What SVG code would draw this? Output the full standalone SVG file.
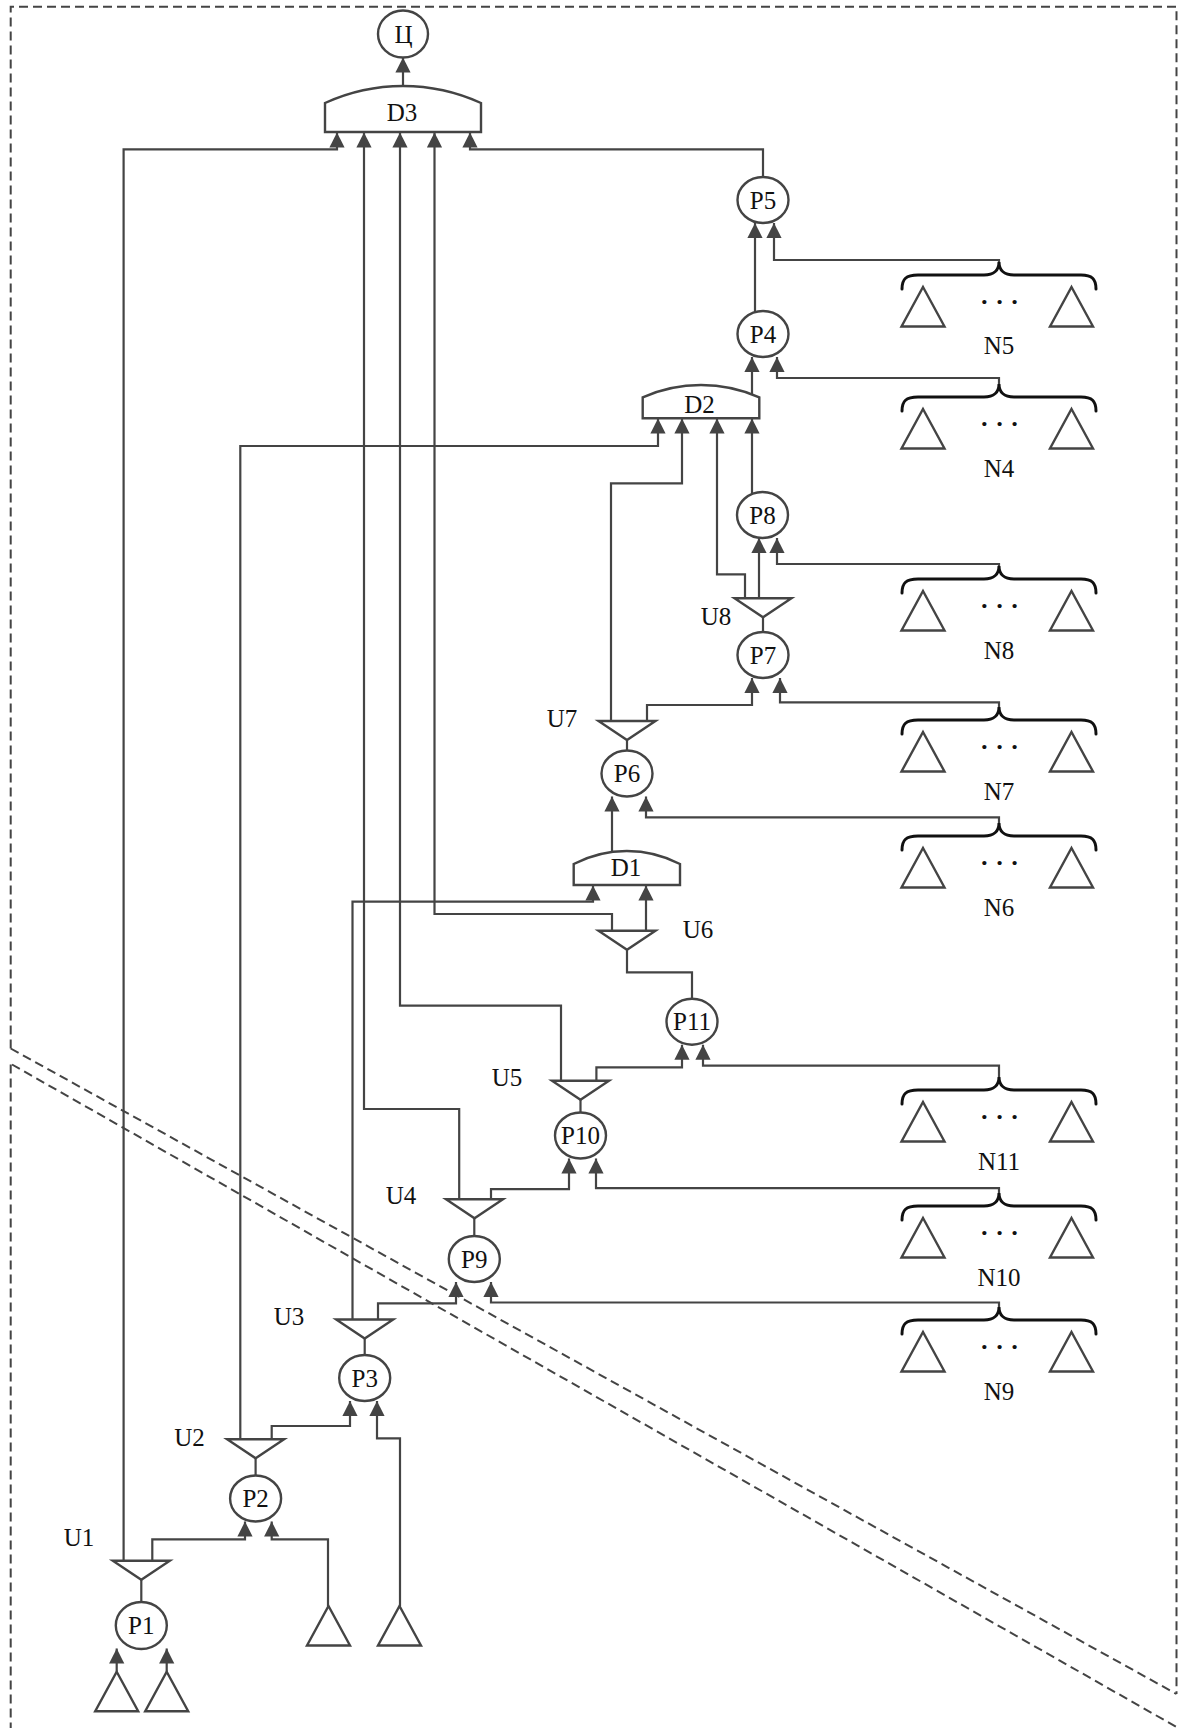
<svg xmlns="http://www.w3.org/2000/svg" width="1178" height="1728" viewBox="0 0 1178 1728">
  <style>
    .frame { fill: none; stroke: #444; stroke-width: 2; stroke-dasharray: 9 5; }
    .wire { fill: none; stroke: #444; stroke-width: 2.2; }
    .arr { marker-end: url(#head); }
    .node { fill: #fff; stroke: #444; stroke-width: 2.4; }
    .tri { fill: #fff; stroke: #444; stroke-width: 2.4; stroke-linejoin: miter; }
    .brace { fill: none; stroke: #111; stroke-width: 3; stroke-linecap: round; }
    .lbl { font-family: "Liberation Serif", "Times New Roman", serif; font-size: 25px; fill: #111; text-anchor: middle; }
    .dots { font-family: "Liberation Serif", "Times New Roman", serif; font-size: 26px; font-weight: bold; fill: #111; text-anchor: middle; }
  </style>
  <defs>
    <marker id="head" markerUnits="userSpaceOnUse" markerWidth="16" markerHeight="16" viewBox="0 0 16 16" refX="15" refY="7.6" orient="auto">
      <path d="M0,0 L15,7.6 L0,15.2 Z" fill="#444"/>
    </marker>
    <!-- splitter: inverted triangle, 57 wide, 19 high, origin at top centre -->
    <path id="splitter" d="M-28.5,0 H28.5 L0,19 Z"/>
    <!-- source: upright triangle, origin at apex -->
    <path id="source" d="M0,0 L21.5,39.5 H-21.5 Z"/>
    <!-- group bracket over a row of sources, origin at bracket line centre -->
    <path id="bracket" d="M-97,14 C-97,4 -93,0 -81,0 H-15 C-5,0 0,-5 0,-13 C0,-5 5,0 15,0 H82 C93,0 97,4 97,14"/>
  </defs>

  <!-- dashed boundaries -->
  <g id="boundary">
    <path class="frame" d="M10.7,1048.5 V6.8 H1176.5 V1694"/>
    <path class="frame" d="M10.7,1048.5 L1176.5,1694"/>
    <path class="frame" d="M12,1064.5 L1180,1729"/>
    <path class="frame" d="M10.7,1064.5 V1728"/>
  </g>

  <g id="connectors">
    <path class="wire arr" d="M403,86 V57.5"/>
    <path class="wire arr" d="M123.6,1560.8 V149.3 H337 V132.5"/>
    <path class="wire arr" d="M459.2,1199.3 V1109 H364 V132.5"/>
    <path class="wire arr" d="M561,1080.7 V1005.7 H400 V132.5"/>
    <path class="wire arr" d="M612,930.7 V914 H434.5 V132.5"/>
    <path class="wire arr" d="M763,177 V149.3 H470 V132.5"/>
    <path class="wire arr" d="M755,312 V223"/>
    <path class="wire arr" d="M999,262 V260 H774 V223"/>
    <path class="wire arr" d="M752,396 V357"/>
    <path class="wire arr" d="M999,384 V378 H777 V357"/>
    <path class="wire arr" d="M240.3,1439.3 V446 H658 V418.5"/>
    <path class="wire arr" d="M611,721 V483.3 H682 V418.5"/>
    <path class="wire arr" d="M745,598.3 V574.3 H717 V418.5"/>
    <path class="wire arr" d="M752,493 V418.5"/>
    <path class="wire arr" d="M759,598.3 V538"/>
    <path class="wire arr" d="M999,566 V564 H777 V538"/>
    <path class="wire" d="M763,632 V616.7"/>
    <path class="wire arr" d="M647,721 V705 H752 V678"/>
    <path class="wire arr" d="M999,707 V702.3 H780 V678"/>
    <path class="wire" d="M627,750.5 V740"/>
    <path class="wire arr" d="M612,852.5 V796.5"/>
    <path class="wire arr" d="M999,823 V817.3 H646 V796.5"/>
    <path class="wire arr" d="M352.5,1319.5 V901.7 H593 V885.5"/>
    <path class="wire arr" d="M646,930.7 V885.5"/>
    <path class="wire" d="M692,998.7 V972.3 H627 V950"/>
    <path class="wire arr" d="M596.4,1080.7 V1067.3 H682 V1044.7"/>
    <path class="wire arr" d="M999,1077 V1065.7 H703 V1044.7"/>
    <path class="wire" d="M580.5,1112.5 V1100"/>
    <path class="wire arr" d="M491,1199.3 V1189.2 H569 V1158.5"/>
    <path class="wire arr" d="M999,1193 V1188.1 H596 V1158.5"/>
    <path class="wire" d="M474.3,1236 V1218"/>
    <path class="wire arr" d="M378,1319.5 V1303.3 H456 V1282"/>
    <path class="wire arr" d="M999,1307 V1302.5 H491 V1282"/>
    <path class="wire" d="M364.7,1355 V1339"/>
    <path class="wire arr" d="M271.7,1439.3 V1426 H350 V1401"/>
    <path class="wire arr" d="M400,1606 V1438.4 H377 V1401"/>
    <path class="wire" d="M255.6,1475.5 V1458"/>
    <path class="wire arr" d="M152.3,1560.8 V1539.3 H245 V1521.5"/>
    <path class="wire arr" d="M328,1606 V1539.3 H271.7 V1521.5"/>
    <path class="wire" d="M141.3,1602.5 V1579"/>
    <path class="wire arr" d="M116.7,1671.7 V1648.5"/>
    <path class="wire arr" d="M166.7,1671.7 V1648.5"/>
  </g>

  <!-- goal -->
  <g id="C">
    <ellipse class="node" cx="403" cy="34" rx="25" ry="23.5"/>
    <text class="lbl" x="403.5" y="42.5">Ц</text>
  </g>

  <!-- aggregators -->
  <g id="D3">
    <path class="node" d="M325,132 V103 A187 187 0 0 1 481,103 V132 Z"/>
    <text class="lbl" x="402" y="120.5">D3</text>
  </g>
  <g id="D2">
    <path class="node" d="M642.7,418.3 V397.3 A144 144 0 0 1 759.3,397.3 V418.3 Z"/>
    <text class="lbl" x="699.5" y="412.5">D2</text>
  </g>
  <g id="D1">
    <path class="node" d="M573.7,885 V864 A115 115 0 0 1 680,864 V885 Z"/>
    <text class="lbl" x="626" y="876">D1</text>
  </g>

  <!-- processes -->
  <g id="P5"><ellipse class="node" cx="763" cy="200" rx="25.5" ry="23"/><text class="lbl" x="763" y="208.5">P5</text></g>
  <g id="P4"><ellipse class="node" cx="763" cy="334" rx="25.5" ry="23"/><text class="lbl" x="763" y="342.5">P4</text></g>
  <g id="P8"><ellipse class="node" cx="762.5" cy="515" rx="25.5" ry="23"/><text class="lbl" x="762.5" y="523.5">P8</text></g>
  <g id="P7"><ellipse class="node" cx="763" cy="655" rx="25.5" ry="23"/><text class="lbl" x="763" y="663.5">P7</text></g>
  <g id="P6"><ellipse class="node" cx="627" cy="773.5" rx="25.5" ry="23"/><text class="lbl" x="627" y="782">P6</text></g>
  <g id="P11"><ellipse class="node" cx="692" cy="1021.7" rx="25.5" ry="23"/><text class="lbl" x="692" y="1030.2">P11</text></g>
  <g id="P10"><ellipse class="node" cx="580.5" cy="1135.5" rx="25.5" ry="23"/><text class="lbl" x="580.5" y="1144">P10</text></g>
  <g id="P9"><ellipse class="node" cx="474.3" cy="1259" rx="25.5" ry="23"/><text class="lbl" x="474.3" y="1267.5">P9</text></g>
  <g id="P3"><ellipse class="node" cx="364.7" cy="1378" rx="25.5" ry="23"/><text class="lbl" x="364.7" y="1386.5">P3</text></g>
  <g id="P2"><ellipse class="node" cx="255.6" cy="1498.5" rx="25.5" ry="23"/><text class="lbl" x="255.6" y="1507">P2</text></g>
  <g id="P1"><ellipse class="node" cx="141.3" cy="1625.5" rx="25.5" ry="23.5"/><text class="lbl" x="141.3" y="1634">P1</text></g>

  <!-- splitters -->
  <g id="U8"><use href="#splitter" class="tri" x="763" y="598.3"/><text class="lbl" x="716" y="624.5">U8</text></g>
  <g id="U7"><use href="#splitter" class="tri" x="627" y="721"/><text class="lbl" x="562" y="727">U7</text></g>
  <g id="U6"><use href="#splitter" class="tri" x="627" y="930.7"/><text class="lbl" x="698" y="937.5">U6</text></g>
  <g id="U5"><use href="#splitter" class="tri" x="580.5" y="1080.7"/><text class="lbl" x="507" y="1086">U5</text></g>
  <g id="U4"><use href="#splitter" class="tri" x="474.5" y="1199.3"/><text class="lbl" x="401" y="1204">U4</text></g>
  <g id="U3"><use href="#splitter" class="tri" x="364.7" y="1319.5"/><text class="lbl" x="289" y="1325">U3</text></g>
  <g id="U2"><use href="#splitter" class="tri" x="255.6" y="1439.3"/><text class="lbl" x="189.5" y="1445.5">U2</text></g>
  <g id="U1"><use href="#splitter" class="tri" x="141.3" y="1560.8"/><text class="lbl" x="79" y="1545.5">U1</text></g>

  <!-- source groups -->
  <g id="N5">
    <use href="#bracket" class="brace" x="999" y="275"/>
    <use href="#source" class="tri" x="923" y="287"/><use href="#source" class="tri" x="1071.5" y="287"/>
    <text class="dots" x="999.5" y="310">· · ·</text><text class="lbl" x="999" y="354">N5</text>
  </g>
  <g id="N4">
    <use href="#bracket" class="brace" x="999" y="397"/>
    <use href="#source" class="tri" x="923" y="409"/><use href="#source" class="tri" x="1071.5" y="409"/>
    <text class="dots" x="999.5" y="432">· · ·</text><text class="lbl" x="999" y="477">N4</text>
  </g>
  <g id="N8">
    <use href="#bracket" class="brace" x="999" y="579"/>
    <use href="#source" class="tri" x="923" y="591"/><use href="#source" class="tri" x="1071.5" y="591"/>
    <text class="dots" x="999.5" y="614">· · ·</text><text class="lbl" x="999" y="659">N8</text>
  </g>
  <g id="N7">
    <use href="#bracket" class="brace" x="999" y="720"/>
    <use href="#source" class="tri" x="923" y="732"/><use href="#source" class="tri" x="1071.5" y="732"/>
    <text class="dots" x="999.5" y="755">· · ·</text><text class="lbl" x="999" y="800">N7</text>
  </g>
  <g id="N6">
    <use href="#bracket" class="brace" x="999" y="836"/>
    <use href="#source" class="tri" x="923" y="848"/><use href="#source" class="tri" x="1071.5" y="848"/>
    <text class="dots" x="999.5" y="871">· · ·</text><text class="lbl" x="999" y="916">N6</text>
  </g>
  <g id="N11">
    <use href="#bracket" class="brace" x="999" y="1090"/>
    <use href="#source" class="tri" x="923" y="1102"/><use href="#source" class="tri" x="1071.5" y="1102"/>
    <text class="dots" x="999.5" y="1125">· · ·</text><text class="lbl" x="999" y="1170">N11</text>
  </g>
  <g id="N10">
    <use href="#bracket" class="brace" x="999" y="1206"/>
    <use href="#source" class="tri" x="923" y="1218"/><use href="#source" class="tri" x="1071.5" y="1218"/>
    <text class="dots" x="999.5" y="1241">· · ·</text><text class="lbl" x="999" y="1286">N10</text>
  </g>
  <g id="N9">
    <use href="#bracket" class="brace" x="999" y="1320"/>
    <use href="#source" class="tri" x="923" y="1332"/><use href="#source" class="tri" x="1071.5" y="1332"/>
    <text class="dots" x="999.5" y="1355">· · ·</text><text class="lbl" x="999" y="1400">N9</text>
  </g>

  <!-- single sources at the bottom -->
  <g id="S1a"><use href="#source" class="tri" x="116.7" y="1671.7"/></g>
  <g id="S1b"><use href="#source" class="tri" x="166.7" y="1671.7"/></g>
  <g id="S2"><use href="#source" class="tri" x="328.5" y="1606"/></g>
  <g id="S3"><use href="#source" class="tri" x="399.5" y="1606"/></g>
</svg>
